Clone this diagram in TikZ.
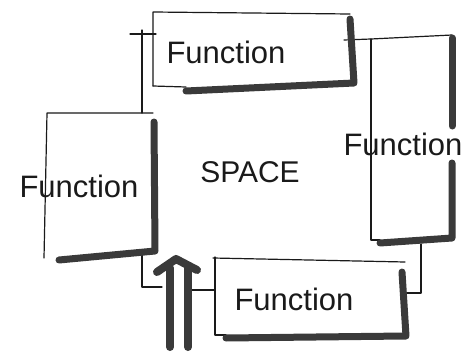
\documentclass[tikz,border=0pt]{standalone}
\usepackage{fontspec}
\setmainfont{Liberation Sans}
\definecolor{ink}{HTML}{1A1A1A}
\definecolor{marker}{HTML}{3A3A3A}
\tikzset{
  thin/.style={draw=ink, line width=1.2pt, line cap=round, line join=round},
  shade/.style={draw=marker, line width=7pt, line cap=round, line join=round},
  arrowstroke/.style={draw=marker, line width=8pt, line cap=round, line join=round},
  label/.style={font=\fontsize{31}{31}\selectfont, text=ink, inner sep=0pt}
}
\begin{document}
\begin{tikzpicture}[x=1pt,y=-1pt]
\useasboundingbox[fill=white] (0,0) rectangle (472,356);

% --- corner coordinates ---
% top box
\coordinate (TA) at (153,12);  \coordinate (TB) at (350,14);
\coordinate (TC) at (350,86);  \coordinate (TD) at (153,86);
% left box
\coordinate (LA) at (47,113);  \coordinate (LB) at (153,113);
\coordinate (LC) at (153,257); \coordinate (LD) at (44,258);
% right box
\coordinate (RA) at (371,39);  \coordinate (RB) at (452,35);
\coordinate (RC) at (452,240); \coordinate (RD) at (371,240);
% bottom box
\coordinate (BA) at (213,258); \coordinate (BB) at (405,262);
\coordinate (BC) at (402,335); \coordinate (BD) at (215,335);

% --- thin outlines ---
\draw[thin] (TD) -- (TA) -- (TB);
\draw[thin] (TD) -- (186,87);
\draw[thin] (LD) -- (LA) -- (LB);
\draw[thin] (344,40) -- (RA) -- (RB);
\draw[thin] (RA) -- (RD) -- (380,240);
\draw[thin] (BA) -- (BB);
\draw[thin] (215,257) -- (BD) -- (226,335);

% --- space boundary and connectors ---
\coordinate (S1) at (142,30);
\coordinate (S2) at (142,113);
\draw[thin] (S1) -- (S2);
\draw[thin] (130,34) -- (156,34);
\coordinate (E1) at (142,252);
\coordinate (E2) at (142,287);
\coordinate (E3) at (162,287);
\draw[thin] (E1) -- (E2) -- (E3);
\coordinate (F1) at (192,290);
\coordinate (F2) at (215,290);
\draw[thin] (F1) -- (F2);
\coordinate (G1) at (421,244);
\coordinate (G2) at (421,293);
\coordinate (G3) at (405,293);
\draw[thin] (G1) -- (G2) -- (G3);

% --- thick marker shadows ---
\draw[shade] (186,91) -- (354,83) -- (350,19);
\draw[shade] (59,260) -- (155,251) -- (154,122);
\draw[shade] (452,38) -- (452,126);
\draw[shade] (452,163) -- (452,238) -- (380,243);
\draw[shade] (226,338) -- (406,336) -- (402,272);

% --- entry arrow ---
\draw[arrowstroke] (170,347) -- (170,268);
\draw[arrowstroke] (188,347) -- (188,268);
\draw[arrowstroke] (157,272) -- (176,259) -- (197,270);

% --- labels ---
\node[label] (tf) at (226,52) {Function};
\node[label] (lf) at (79,186) {Function};
\node[label] (rf) at (403,144) {Function};
\node[label] (bf) at (294,299) {Function};
\node[label, font=\fontsize{30}{30}\selectfont] (sp) at (250,172) {SPACE};
\end{tikzpicture}
\end{document}
